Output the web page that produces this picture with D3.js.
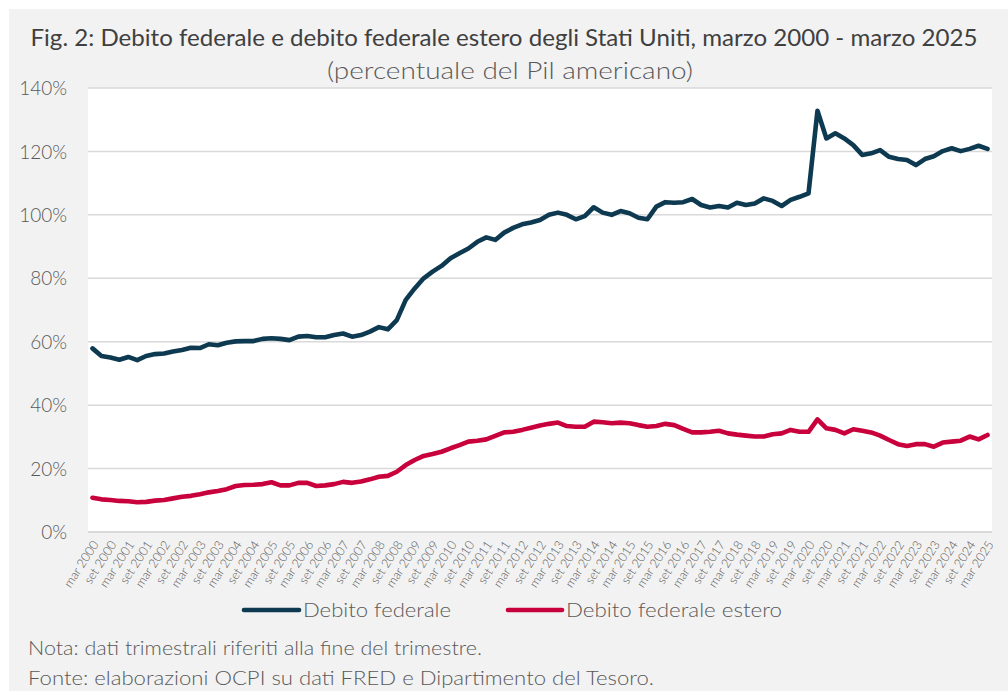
<!DOCTYPE html>
<html><head><meta charset="utf-8">
<script src="https://cdn.jsdelivr.net/npm/d3@7"></script>
<style>
html,body{margin:0;padding:0;background:#fff;}
svg{display:block;font-family:Lato,"Open Sans",sans-serif;}
</style></head>
<body>
<div id="chart"></div>
<script>
const quarterNames = ["mar","giu","set","dic"];
const startYear = 2000;
const nQuarters = 101;
const categories = d3.range(nQuarters).map(i => quarterNames[i % 4] + " " + (startYear + Math.floor(i / 4)));

const debitoFederale = [
 57.9,55.5,55.0,54.3,55.2,54.2,55.5,56.1,56.3,56.9,57.4,58.1,58.0,59.2,58.9,59.7,60.1,60.2,60.2,60.9,61.1,60.9,60.5,61.6,61.8,61.4,61.4,62.1,62.6,61.6,62.1,63.2,64.6,
 63.9,66.8,73.2,76.8,80.0,82.1,83.9,86.3,87.9,89.4,91.5,92.9,92.1,94.4,95.9,97.0,97.6,98.4,100.0,100.7,100.0,98.6,99.6,102.4,100.7,100.0,101.2,100.5,99.1,98.6,102.6,104.0,103.8,104.0,
 105.0,103.1,102.3,102.8,102.3,103.8,103.1,103.6,105.2,104.4,102.8,104.7,105.7,106.8,132.8,124.1,125.7,124.1,122.0,118.9,119.4,120.4,118.3,117.6,117.3,115.7,117.6,118.5,120.1,121.0,120.1,120.8,121.8,120.8
];
const debitoFederaleEstero = [
 10.8,10.3,10.1,9.8,9.7,9.4,9.5,9.9,10.1,10.6,11.1,11.4,11.9,12.5,12.9,13.5,14.5,14.8,14.9,15.1,15.7,14.7,14.7,15.5,15.5,14.5,14.7,15.1,15.8,15.5,15.9,16.6,17.4,
 17.7,19.0,21.1,22.7,24.0,24.6,25.3,26.4,27.4,28.5,28.8,29.2,30.3,31.4,31.6,32.2,32.9,33.6,34.1,34.5,33.4,33.2,33.2,34.8,34.6,34.3,34.5,34.3,33.7,33.2,33.4,34.1,33.7,32.5,
 31.4,31.4,31.6,31.9,31.1,30.7,30.4,30.1,30.1,30.8,31.1,32.2,31.6,31.6,35.5,32.7,32.2,31.1,32.4,31.9,31.4,30.4,29.0,27.7,27.1,27.7,27.7,26.9,28.2,28.5,28.8,30.1,29.2,30.6
];
const yTicks = [0,20,40,60,80,100,120,140];
const seriesNames = ["Debito federale","Debito federale estero"];
const seriesColors = ["#0d3a50","#c8003c"];

const W = 1008, H = 691;
const plot = {l:88, r:992, t:88, b:532};

const svg = d3.select("#chart").append("svg").attr("width",W).attr("height",H);
svg.append("rect").attr("width",W).attr("height",H).attr("fill","#fff");
svg.append("rect").attr("x",9).attr("y",9).attr("width",W-9).attr("height",H-9).attr("fill","#f2f2f2");
svg.append("rect").attr("x",plot.l).attr("y",plot.t).attr("width",plot.r-plot.l).attr("height",plot.b-plot.t).attr("fill","#fff");

const x = d3.scaleBand().domain(categories).range([plot.l, plot.r]).padding(0);
const cx = c => x(c) + x.bandwidth()/2;
const y = d3.scaleLinear().domain([0,140]).range([plot.b, plot.t]);

// gridlines
svg.append("g").selectAll("line").data(yTicks).join("line")
  .attr("x1",plot.l).attr("x2",plot.r)
  .attr("y1",d=>y(d)).attr("y2",d=>y(d))
  .attr("stroke","#d9d9d9").attr("stroke-width",d=>d===0?2:1.5);

// y axis
const yAxis = d3.axisLeft(y).tickValues(yTicks).tickFormat(d=>d+"%").tickSize(0).tickPadding(0);
const gy = svg.append("g").attr("transform","translate(67,0)").call(yAxis);
gy.select(".domain").remove();
gy.selectAll("text").attr("font-size",19).attr("fill","#595959").attr("font-family","Lato").attr("font-weight",300).attr("dy","0.35em");

// x axis labels
const tickLabels = categories.filter((c,i)=>i%2===0);
const xAxis = d3.axisBottom(x).tickValues(tickLabels).tickSize(0).tickPadding(0);
const gx = svg.append("g").attr("transform",`translate(0,${plot.b})`).call(xAxis);
gx.select(".domain").remove();
gx.selectAll("text")
  .attr("font-size",12.5).attr("fill","#595959").attr("font-family","Lato").attr("font-weight",300)
  .attr("text-anchor","end")
  .attr("y",0).attr("dy","0.35em")
  .attr("transform","translate(3,10) rotate(-57)");

// lines
const line = d3.line().x((d,i)=>cx(categories[i])).y(d=>y(d)).curve(d3.curveLinear);
[debitoFederale, debitoFederaleEstero].forEach((s,k)=>{
  svg.append("path").datum(s).attr("d",line).attr("fill","none")
    .attr("stroke",seriesColors[k]).attr("stroke-width",4.6)
    .attr("stroke-linejoin","round").attr("stroke-linecap","round");
});

// title
svg.append("text").attr("x",504).attr("y",46).attr("text-anchor","middle")
  .attr("font-size",24).attr("fill","#404040").attr("font-family","Lato").attr("font-weight",400)
  .attr("textLength",947).attr("lengthAdjust","spacingAndGlyphs")
  .text("Fig. 2: Debito federale e debito federale estero degli Stati Uniti, marzo 2000 - marzo 2025");
svg.append("text").attr("x",510).attr("y",79).attr("text-anchor","middle")
  .attr("font-size",23).attr("fill","#595959").attr("font-family","Lato").attr("font-weight",300)
  .attr("textLength",366).attr("lengthAdjust","spacingAndGlyphs")
  .text("(percentuale del Pil americano)");

// legend
const legendItems = [{x0:244,x1:299,tx:303,tl:148},{x0:508,x1:562,tx:566,tl:216}];
legendItems.forEach((it,k)=>{
  svg.append("line").attr("x1",it.x0).attr("x2",it.x1).attr("y1",610).attr("y2",610)
    .attr("stroke",seriesColors[k]).attr("stroke-width",4.6).attr("stroke-linecap","round");
  svg.append("text").attr("x",it.tx).attr("y",617).attr("font-size",20).attr("fill","#595959")
    .attr("font-family","Lato").attr("font-weight",300)
    .attr("textLength",it.tl).attr("lengthAdjust","spacingAndGlyphs")
    .text(seriesNames[k]);
});

// notes
svg.append("text").attr("x",28).attr("y",655).attr("font-size",19).attr("fill","#595959")
  .attr("font-family","Lato").attr("font-weight",300)
  .attr("textLength",454).attr("lengthAdjust","spacingAndGlyphs")
  .text("Nota: dati trimestrali riferiti alla fine del trimestre.");
svg.append("text").attr("x",28).attr("y",685).attr("font-size",19).attr("fill","#595959")
  .attr("font-family","Lato").attr("font-weight",300)
  .attr("textLength",626).attr("lengthAdjust","spacingAndGlyphs")
  .text("Fonte: elaborazioni OCPI su dati FRED e Dipartimento del Tesoro.");
</script>
</body></html>
